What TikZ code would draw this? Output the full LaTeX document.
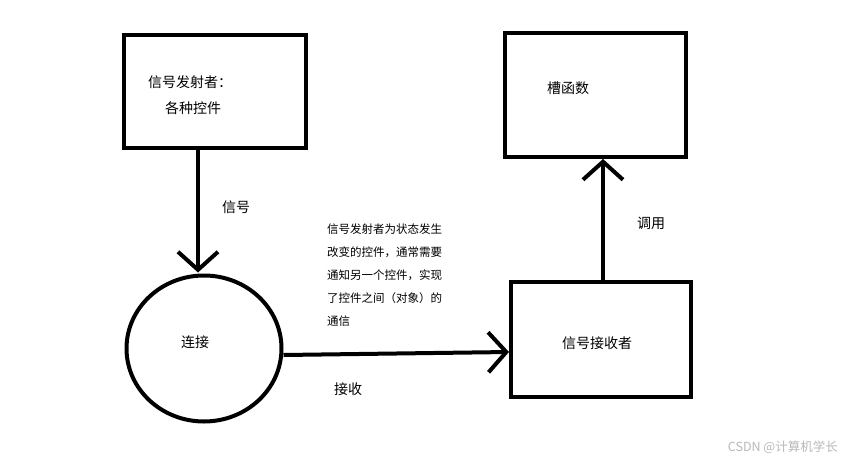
\documentclass[tikz,border=0pt]{standalone}
\usepackage{fontspec}
\setmainfont{Noto Sans CJK SC}
\usetikzlibrary{arrows.meta,shapes.geometric}
\begin{document}
\begin{tikzpicture}[x=1pt,y=-1pt,
  box/.style={draw,line width=4pt,inner sep=0pt},
  lbl/.style={font=\fontsize{14}{16}\selectfont,inner sep=0pt,anchor=west},
  arr/.style={line width=4pt,-{Straight Barb[length=18pt,width=40pt,line width=4pt]}},
  note/.style={font=\fontsize{11.5}{23}\selectfont,inner sep=0pt,anchor=north west,align=left}]
\useasboundingbox[fill=white] (0,0) rectangle (848,463);
\node[box,minimum width=182pt,minimum height=113pt] (box1) at (215,91.5) {};
\node[box,minimum width=181pt,minimum height=124pt] (box2) at (595.5,95) {};
\node[box,minimum width=180pt,minimum height=115pt] (box3) at (601,339.5) {};
\node[draw,ellipse,line width=4pt,minimum width=155pt,minimum height=146pt,inner sep=0pt] (circ) at (204,348.5) {};
\node[lbl] (t1) at (148,82) {信号发射者：};
\node[lbl] (t2) at (165,108) {各种控件};
\node[lbl] (t3) at (547,88) {槽函数};
\node[lbl] (t4) at (562,343) {信号接收者};
\node[lbl] (t5) at (181,342) {连接};
\node[lbl] (l1) at (222,207) {信号};
\node[lbl] (l2) at (334,389) {接收};
\node[lbl] (l3) at (637,223) {调用};
\node[note] (nt) at (327,224) {信号发射者为状态发生\\改变的控件，通常需要\\通知另一个控件，实现\\了控件之间（对象）的\\通信};
\node[font=\fontsize{12.5}{14}\selectfont,text=gray!55,inner sep=0pt,anchor=east] (wm) at (838,447) {CSDN @计算机学长};
\coordinate (a1) at (198,0);
\coordinate (a3) at (603,0);
\draw[arr] (box1.south -| a1) -- ([yshift=1pt]circ.north -| a1);
\draw[arr] ([yshift=-6.5pt]circ.east) -- ([yshift=-12.5pt]box3.west);
\draw[arr] (box3.north -| a3) -- (box2.south -| a3);
\end{tikzpicture}
\end{document}
